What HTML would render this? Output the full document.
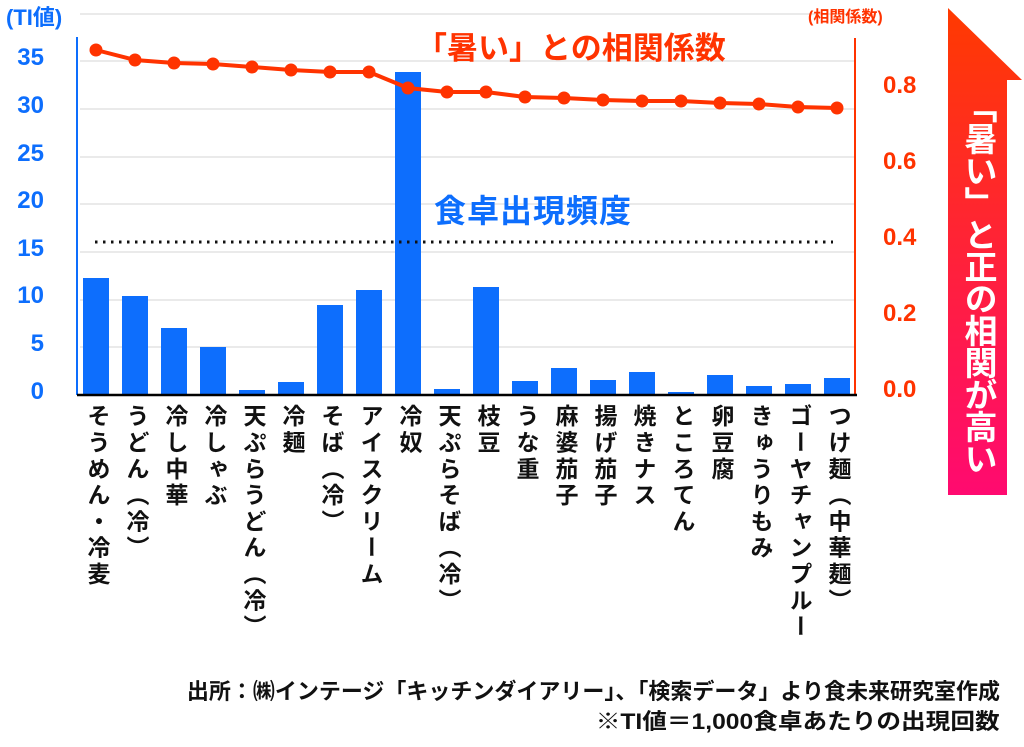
<!DOCTYPE html>
<html><head><meta charset="utf-8"><style>
body{margin:0;background:#fff;width:1024px;height:747px;overflow:hidden;position:relative;font-family:"Liberation Sans","Noto Sans CJK JP",sans-serif;font-weight:bold}
.t{position:absolute;white-space:nowrap}
.xl{position:absolute;top:404px;writing-mode:vertical-rl;font-size:23px;color:#111;line-height:28px;letter-spacing:3.3px}
</style></head><body>
<svg width="1024" height="747" style="position:absolute;left:0;top:0">
<defs><linearGradient id="g" x1="0" y1="0" x2="0" y2="1"><stop offset="0" stop-color="#ff3a00"/><stop offset="1" stop-color="#ff0a70"/></linearGradient></defs>
<g stroke="#e4e4e4" stroke-width="1.5">
<line x1="80" y1="14" x2="855" y2="14"/><line x1="80" y1="61" x2="855" y2="61"/><line x1="80" y1="109" x2="855" y2="109"/><line x1="80" y1="157" x2="855" y2="157"/><line x1="80" y1="204" x2="855" y2="204"/><line x1="80" y1="252" x2="855" y2="252"/><line x1="80" y1="300" x2="855" y2="300"/><line x1="80" y1="347" x2="855" y2="347"/></g>
<g fill="#0d6efd">
<rect x="83" y="278" width="26" height="116"/><rect x="122" y="296" width="26" height="98"/><rect x="161" y="328" width="26" height="66"/><rect x="200" y="347" width="26" height="47"/><rect x="239" y="390" width="26" height="4"/><rect x="278" y="382" width="26" height="12"/><rect x="317" y="305" width="26" height="89"/><rect x="356" y="290" width="26" height="104"/><rect x="395" y="72" width="26" height="322"/><rect x="434" y="389" width="26" height="5"/><rect x="473" y="287" width="26" height="107"/><rect x="512" y="381" width="26" height="13"/><rect x="551" y="368" width="26" height="26"/><rect x="590" y="380" width="26" height="14"/><rect x="629" y="372" width="26" height="22"/><rect x="668" y="392" width="26" height="2"/><rect x="707" y="375" width="26" height="19"/><rect x="746" y="386" width="26" height="8"/><rect x="785" y="384" width="26" height="10"/><rect x="824" y="378" width="26" height="16"/></g>
<line x1="77" y1="37" x2="77" y2="395" stroke="#0d6efd" stroke-width="2"/>
<line x1="855" y1="38" x2="855" y2="395" stroke="#ff3300" stroke-width="2"/>
<line x1="77" y1="395" x2="857" y2="395" stroke="#000" stroke-width="2.5"/>
<line x1="95" y1="242" x2="833" y2="242" stroke="#111" stroke-width="3" stroke-dasharray="2.5,5.5"/>
<polyline fill="none" stroke="#ff3300" stroke-width="4" points="96,50 135,60 174,63 213,64 252,67 291,70 330,72 369,72 408,88 447,92 486,92 525,97 564,98 603,100 642,101 681,101 720,103 759,104 798,107 837,108"/>
<g fill="#ff3300"><circle cx="96" cy="50" r="6.5"/><circle cx="135" cy="60" r="6.5"/><circle cx="174" cy="63" r="6.5"/><circle cx="213" cy="64" r="6.5"/><circle cx="252" cy="67" r="6.5"/><circle cx="291" cy="70" r="6.5"/><circle cx="330" cy="72" r="6.5"/><circle cx="369" cy="72" r="6.5"/><circle cx="408" cy="88" r="6.5"/><circle cx="447" cy="92" r="6.5"/><circle cx="486" cy="92" r="6.5"/><circle cx="525" cy="97" r="6.5"/><circle cx="564" cy="98" r="6.5"/><circle cx="603" cy="100" r="6.5"/><circle cx="642" cy="101" r="6.5"/><circle cx="681" cy="101" r="6.5"/><circle cx="720" cy="103" r="6.5"/><circle cx="759" cy="104" r="6.5"/><circle cx="798" cy="107" r="6.5"/><circle cx="837" cy="108" r="6.5"/></g>
<polygon points="948,8 1022,80 1007,80 1007,495 948,495" fill="url(#g)"/>
</svg>
<div class="t" style="left:6px;top:0px;font-size:22px;color:#0d6efd">(TI値)</div>
<div class="t" style="left:808px;top:3px;font-size:16px;color:#ff3300">(相関係数)</div>
<div style="position:absolute;left:0;width:44px;color:#0d6efd;font-size:24px;line-height:28px">
<div class="t" style="right:0;top:44px">35</div><div class="t" style="right:0;top:92px">30</div><div class="t" style="right:0;top:140px">25</div><div class="t" style="right:0;top:187px">20</div><div class="t" style="right:0;top:235px">15</div><div class="t" style="right:0;top:282px">10</div><div class="t" style="right:0;top:330px">5</div><div class="t" style="right:0;top:378px">0</div></div>
<div style="color:#ff3300;font-size:24px;line-height:28px">
<div class="t" style="left:883px;top:72px">0.8</div><div class="t" style="left:883px;top:148px">0.6</div><div class="t" style="left:883px;top:224px">0.4</div><div class="t" style="left:883px;top:300px">0.2</div><div class="t" style="left:883px;top:376px">0.0</div></div>
<div class="t" style="left:416px;top:23px;font-size:31px;color:#ff3300">「暑い」との相関係数</div>
<div class="t" style="left:434px;top:186px;font-size:32px;color:#0d6efd;letter-spacing:1px">食卓出現頻度</div>
<div class="t" style="left:957px;top:90px;writing-mode:vertical-rl;font-size:33px;color:#fff;line-height:42px;letter-spacing:-1px">「暑い」と正の相関が高い</div>
<div class="xl" style="left:83px">そうめん・冷麦</div><div class="xl" style="left:122px">うどん（冷）</div><div class="xl" style="left:161px">冷し中華</div><div class="xl" style="left:200px">冷しゃぶ</div><div class="xl" style="left:239px">天ぷらうどん（冷）</div><div class="xl" style="left:278px">冷麺</div><div class="xl" style="left:317px">そば（冷）</div><div class="xl" style="left:356px">アイスクリーム</div><div class="xl" style="left:395px">冷奴</div><div class="xl" style="left:434px">天ぷらそば（冷）</div><div class="xl" style="left:473px">枝豆</div><div class="xl" style="left:512px">うな重</div><div class="xl" style="left:551px">麻婆茄子</div><div class="xl" style="left:590px">揚げ茄子</div><div class="xl" style="left:629px">焼きナス</div><div class="xl" style="left:668px">ところてん</div><div class="xl" style="left:707px">卵豆腐</div><div class="xl" style="left:746px">きゅうりもみ</div><div class="xl" style="left:785px">ゴーヤチャンプルー</div><div class="xl" style="left:824px">つけ麺（中華麺）</div>
<div class="t" style="right:24px;top:674px;font-size:22px;color:#111">出所：㈱インテージ「キッチンダイアリー」、「検索データ」より食未来研究室作成</div>
<div class="t" style="right:24px;top:704px;font-size:22px;color:#111;transform:scaleX(1.12);transform-origin:right center">※TI値＝1,000食卓あたりの出現回数</div>
</body></html>
